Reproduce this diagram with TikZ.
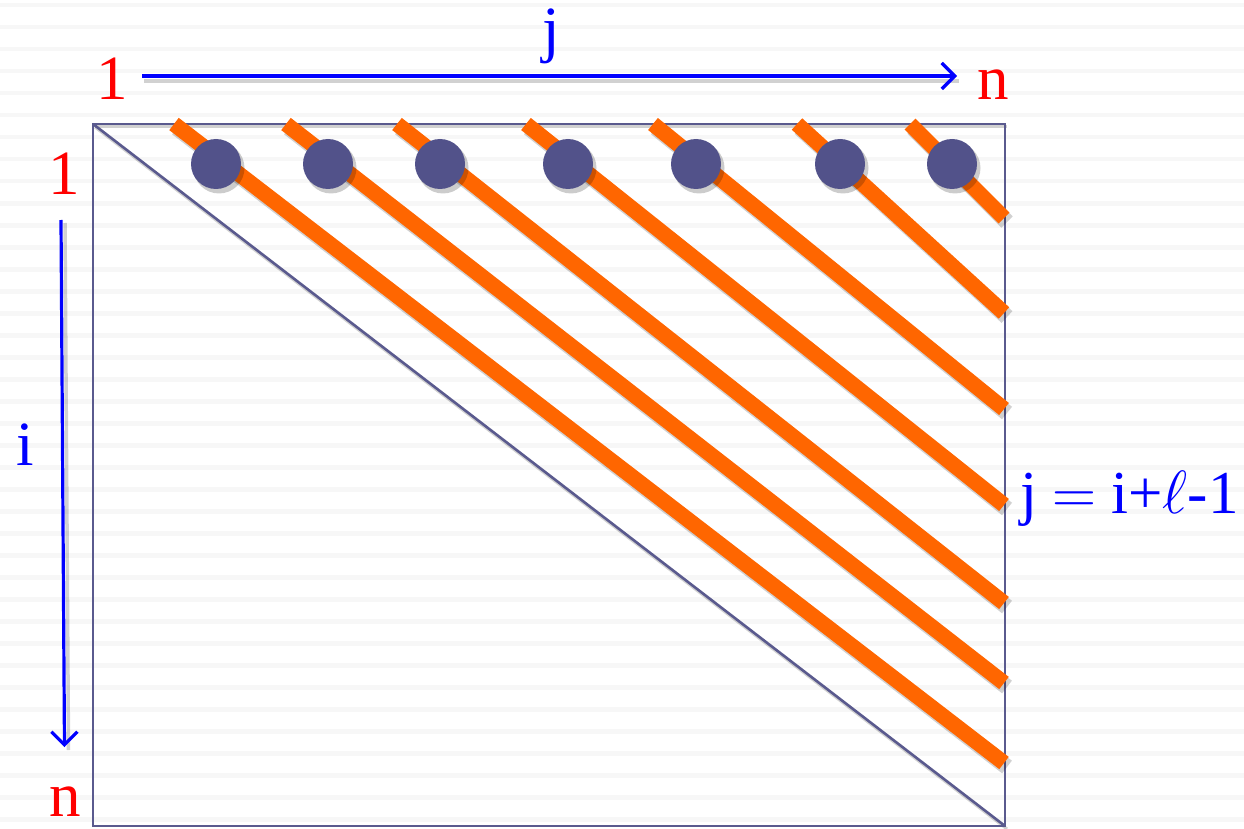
\RequirePackage{fix-cm}
\documentclass[tikz,border=0pt]{standalone}
\usepackage{fontspec}
\setmainfont{Liberation Serif}
\usetikzlibrary{arrows.meta}
\definecolor{slate}{HTML}{52528A}
\definecolor{frame}{HTML}{5A5A8E}
\definecolor{orng}{HTML}{FF6600}
\definecolor{stripe}{HTML}{F7F7F7}
\tikzset{
  lbl/.style={font=\fontsize{63}{70}\selectfont, inner sep=0pt, anchor=base},
  redlbl/.style={lbl, text=red},
  bluelbl/.style={lbl, text=blue},
  axisarrow/.style={draw=blue, line width=3.2pt, -{Straight Barb[length=13pt,width=26pt,line width=3.2pt]}},
  shadowline/.style={draw=black, opacity=0.18, line cap=butt},
  band/.style={draw=orng, line width=15.5pt, line cap=butt},
  dot/.style={circle, fill=slate, minimum size=50pt, inner sep=0pt},
  dotshadow/.style={circle, fill=black, opacity=0.2, minimum size=51pt, inner sep=0pt},
  framepen/.style={draw=frame, line width=2.6pt}
}
\begin{document}
\begin{tikzpicture}[x=1pt,y=-1pt]
\useasboundingbox (0,0) rectangle (1244,829);
\fill[white] (0,0) rectangle (1244,829);
% background stripes
\foreach \k in {0,...,37}{
  \fill[stripe] (0,{3+22*\k}) rectangle (1244,{7.5+22*\k});
}
% matrix frame
\coordinate (tl) at (93,124);
\coordinate (tr) at (1005,124);
\coordinate (bl) at (93,826);
\coordinate (br) at (1005,826);
\draw[shadowline, line width=3pt] ([shift={(2,3)}]tl) -- ([shift={(2,3)}]tr);
\draw[shadowline, line width=3pt] ([shift={(2,3)}]tl) -- ([shift={(2,3)}]br);
\draw[framepen] (tl) -- (tr) -- (br) -- (bl) -- cycle;
\draw[framepen] (tl) -- (br);
% orange diagonals
\foreach \n/\sx/\ey in {1/174/763, 2/286/683, 3/397/603, 4/526/505, 5/653/409, 6/797/313, 7/910/218}{
  \coordinate (s\n) at (\sx,124);
  \coordinate (e\n) at (1004,\ey);
  \draw[shadowline, line width=16pt] ([shift={(3,4)}]s\n) -- ([shift={(3,4)}]e\n);
  \draw[band] (s\n) -- (e\n);
}
% dots
\foreach \n/\cx in {1/216, 2/328, 3/440, 4/568, 5/696, 6/840, 7/952}{
  \node[dotshadow] at (\cx+3,168) {};
  \node[dot] (d\n) at (\cx,164) {};
}
% labels
\node[redlbl] (top1) at (112,100) {1};
\node[redlbl] (topn) at (993,100) {n};
\node[bluelbl] (jlab) at (551,51) {j};
\node[redlbl] (left1) at (64,195) {1};
\node[redlbl] (leftn) at (65,816) {n};
\node[bluelbl] (ilab) at (25,465) {i};
\node[bluelbl, anchor=base west, font=\fontsize{61}{68}\selectfont] (eq) at (1020,513) {j $=$ i+$\ell$-1};
% axis arrows
\coordinate (ja) at (142,76);
\coordinate (jb) at (957,76);
\coordinate (ia) at (61,220);
\coordinate (ib) at (64.5,747);
\draw[shadowline, line width=3.5pt] ([shift={(2,5)}]ja) -- ([shift={(2,5)}]jb);
\draw[shadowline, line width=3.5pt] ([shift={(4,3)}]ia) -- ([shift={(4,3)}]ib);
\draw[axisarrow] (ja) -- (jb);
\draw[axisarrow] (ia) -- (ib);
\end{tikzpicture}
\end{document}
